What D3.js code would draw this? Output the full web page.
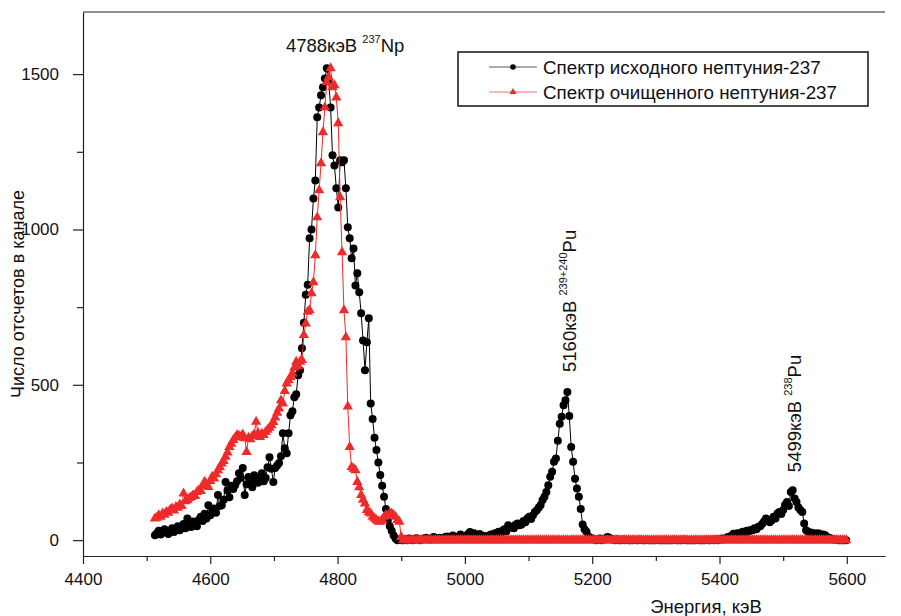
<!DOCTYPE html>
<html><head><meta charset="utf-8">
<script src="https://cdn.jsdelivr.net/npm/d3@7"></script>
<style>
body{margin:0;background:#fff}
svg{display:block}
text{font-family:"Liberation Sans",Arial,sans-serif;fill:#111}
</style>
</head><body>
<svg id="chart" width="901" height="616"></svg>
<script>
// ---- data ----
const energyStart = 4513;   // keV of first channel
const energyStep = 3;       // keV per channel (calibration)

const countsInitial = [
  16, 22, 30, 18, 28, 35, 24, 20, 30, 38,
  26, 33, 45, 32, 40, 52, 38, 70, 48, 42,
  60, 58, 45, 66, 75, 62, 85, 70, 112, 80,
  95, 102, 88, 145, 110, 112, 130, 187, 160, 138,
  175, 165, 177, 190, 215, 200, 232, 145, 180, 203,
  190, 170, 209, 195, 185, 203, 215, 190, 200, 235,
  267, 230, 187, 232, 240, 248, 270, 344, 296, 280,
  344, 402, 415, 460, 470, 531, 547, 618, 700, 790,
  822, 972, 1000, 1100, 1158, 1361, 1393, 1432, 1458, 1486,
  1519, 1480, 1393, 1239, 1206, 1133, 1071, 1223, 1216, 1223,
  1133, 1007, 972, 907, 939, 820, 859, 798, 730, 643,
  547, 637, 714, 440, 390, 330, 290, 250, 210, 175,
  140, 100, 65, 45, 30, 15, 5, 0, 2, 0,
  0, 3, 0, 5, 2, 0, 4, 6, 2, 0,
  3, 5, 8, 4, 2, 6, 10, 5, 3, 8,
  6, 4, 10, 12, 5, 8, 15, 10, 6, 12,
  18, 10, 8, 14, 20, 26, 18, 22, 15, 12,
  20, 10, 14, 12, 8, 15, 18, 12, 22, 20,
  27, 22, 30, 35, 28, 48, 40, 43, 38, 50,
  54, 48, 50, 62, 58, 70, 75, 68, 80, 91,
  96, 105, 113, 129, 140, 155, 177, 204, 220, 252,
  263, 320, 375, 397, 434, 450, 477, 400, 300, 252,
  198, 166, 140, 100, 50, 35, 27, 12, 8, 5,
  3, 0, 2, 5, 0, 3, 6, 10, 8, 4,
  2, 0, 3, 0, 0, 2, 0, 1, 0, 0,
  0, 1, 0, 0, 2, 0, 0, 0, 1, 0,
  0, 0, 0, 1, 0, 0, 0, 0, 0, 0,
  0, 0, 1, 0, 0, 0, 0, 2, 0, 0,
  0, 0, 0, 0, 1, 0, 0, 0, 0, 2,
  0, 0, 2, 0, 3, 0, 2, 5, 3, 6,
  10, 8, 15, 21, 18, 22, 20, 25, 27, 24,
  30, 28, 33, 32, 38, 35, 43, 45, 52, 60,
  70, 66, 58, 64, 75, 70, 86, 91, 84, 97,
  113, 123, 110, 155, 161, 134, 123, 105, 97, 91,
  54, 32, 27, 25, 24, 22, 20, 22, 21, 15,
  18, 16, 10, 8, 5, 3, 2, 1, 0, 0,
  0, 0, 0
];

const countsPurified = [
  70, 72, 80, 75, 86, 82, 91, 88, 98, 102,
  95, 107, 104, 115, 110, 150, 125, 129, 135, 139,
  145, 142, 155, 161, 158, 175, 188, 180, 171, 190,
  204, 198, 212, 225, 235, 247, 255, 268, 282, 300,
  310, 322, 330, 338, 336, 332, 340, 328, 284, 330,
  325, 335, 340, 381, 345, 332, 343, 338, 348, 355,
  362, 370, 380, 395, 410, 424, 450, 440, 480, 504,
  515, 525, 536, 555, 574, 560, 574, 580, 660, 697,
  735, 740, 795, 830, 917, 1039, 1126, 1213, 1313, 1393,
  1474, 1490, 1519, 1458, 1464, 1425, 1342, 1104, 927, 740,
  653, 430, 300, 235, 230, 225, 187, 170, 145, 130,
  118, 97, 90, 86, 75, 70, 64, 60, 59, 65,
  75, 80, 78, 86, 86, 80, 75, 65, 59, 10,
  0, 0, 0, 0, 0, 0, 0, 0, 0, 0,
  0, 0, 0, 0, 0, 0, 0, 0, 0, 0,
  0, 0, 0, 0, 0, 0, 0, 0, 0, 0,
  0, 0, 0, 0, 0, 0, 0, 0, 0, 0,
  0, 0, 0, 0, 0, 0, 0, 0, 0, 0,
  0, 0, 0, 0, 0, 0, 0, 0, 0, 0,
  0, 0, 0, 0, 0, 0, 0, 0, 0, 0,
  0, 0, 0, 0, 0, 0, 0, 0, 0, 0,
  0, 0, 0, 0, 0, 0, 0, 0, 0, 0,
  0, 0, 0, 0, 0, 0, 0, 0, 0, 0,
  0, 0, 0, 0, 0, 0, 0, 0, 0, 0,
  0, 0, 0, 0, 0, 0, 0, 0, 0, 0,
  0, 0, 0, 0, 0, 0, 0, 0, 0, 0,
  0, 0, 0, 0, 0, 0, 0, 0, 0, 0,
  0, 0, 0, 0, 0, 0, 0, 0, 0, 0,
  0, 0, 0, 0, 0, 0, 0, 0, 0, 0,
  0, 0, 0, 0, 0, 0, 0, 0, 0, 0,
  0, 0, 0, 0, 0, 0, 0, 0, 0, 0,
  0, 0, 0, 0, 0, 0, 0, 0, 0, 0,
  0, 0, 0, 0, 0, 0, 0, 0, 0, 0,
  0, 0, 0, 0, 0, 0, 0, 0, 0, 0,
  0, 0, 0, 0, 0, 0, 0, 0, 0, 0,
  0, 0, 0, 0, 0, 0, 0, 0, 0, 0,
  0, 0, 0
];

const seriesNames = ["Спектр исходного нептуния-237", "Спектр очищенного нептуния-237"];
const xTicks = [4400, 4600, 4800, 5000, 5200, 5400, 5600];
const xMinorTicks = [4500, 4700, 4900, 5100, 5300, 5500];
const yTicks = [0, 500, 1000, 1500];
const yMinorTicks = [250, 750, 1250];
const xTitle = "Энергия, кэВ";
const yTitle = "Число отсчетов в канале";
const peakEnergies = [4788, 5160, 5499];
const peakHeights = [1519, 477, 161];
const peakMain = ["4788кэВ", "5160кэВ", "5499кэВ"];
const peakIsotope = ["237", "239+240", "238"];
const peakElement = ["Np", "Pu", "Pu"];

// ---- chart ----
const W = 901, H = 616;
const m = {left: 83, right: 16, top: 12, bottom: 60};
const svg = d3.select("#chart");

const x = d3.scaleLinear().domain([4400, 5660]).range([m.left, W - m.right]);
const y = d3.scaleLinear().domain([-51, 1700]).range([H - m.bottom, m.top]);

const toPoints = arr => arr.map((v, i) => ({e: energyStart + i * energyStep, v}));
const black = toPoints(countsInitial);
const red = toPoints(countsPurified);

const axisColor = "#222";
const fontAxis = "17px";

// x axis
svg.append("g").attr("transform", `translate(0,${y.range()[0]})`)
  .call(d3.axisBottom(x).tickValues(xTicks).tickSize(8).tickSizeOuter(0).tickPadding(9).tickFormat(d3.format("d")));
svg.append("g").attr("transform", `translate(0,${y.range()[0]})`)
  .call(d3.axisBottom(x).tickValues(xMinorTicks).tickSize(5).tickFormat(""))
  .call(g => g.select(".domain").remove());
// y axis
svg.append("g").attr("transform", `translate(${x.range()[0]},0)`)
  .call(d3.axisLeft(y).tickValues(yTicks).tickSize(10).tickSizeOuter(0).tickPadding(14).tickFormat(d3.format("d")));
svg.append("g").attr("transform", `translate(${x.range()[0]},0)`)
  .call(d3.axisLeft(y).tickValues(yMinorTicks).tickSize(6).tickFormat(""))
  .call(g => g.select(".domain").remove());

svg.selectAll(".domain, .tick line").attr("stroke", axisColor).attr("stroke-width", 1.2);
svg.selectAll(".tick text").attr("font-size", fontAxis).attr("font-family", '"Liberation Sans",Arial,sans-serif').attr("fill", "#111");

// top frame line
svg.append("line")
  .attr("x1", x.range()[0]).attr("x2", x.range()[1])
  .attr("y1", y.range()[1]).attr("y2", y.range()[1])
  .attr("stroke", axisColor).attr("stroke-width", 1.2);

// axis titles
svg.append("text").attr("x", 706).attr("y", 613).attr("text-anchor", "middle")
  .attr("font-size", "18.5px").text(xTitle);
svg.append("text").attr("transform", `translate(24,${294}) rotate(-90)`)
  .attr("text-anchor", "middle").attr("font-size", "18px").text(yTitle);

// series
const line = d3.line().x(d => x(d.e)).y(d => y(d.v));
const plot = svg.append("g");

plot.append("path").datum(black).attr("d", line)
  .attr("fill", "none").attr("stroke", "#000").attr("stroke-width", 1);
plot.append("g").selectAll("circle").data(black).join("circle")
  .attr("cx", d => x(d.e)).attr("cy", d => y(d.v)).attr("r", 4).attr("fill", "#000");

const redColor = "#ee2b2b";
plot.append("path").datum(red).attr("d", line)
  .attr("fill", "none").attr("stroke", redColor).attr("stroke-width", 1);
const tri = d3.symbol().type(d3.symbolTriangle).size(46);
plot.append("g").selectAll("path").data(red).join("path")
  .attr("d", tri).attr("transform", d => `translate(${x(d.e)},${y(d.v)})`).attr("fill", redColor);

// peak labels
function addLabel(g, i, fs) {
  const t = g.append("text").attr("font-size", fs);
  t.append("tspan").text(peakMain[i] + " ");
  t.append("tspan").attr("font-size", "11px").attr("dy", -9).text(peakIsotope[i]);
  t.append("tspan").attr("dy", 9).text(peakElement[i]);
  return t;
}
// horizontal label for the Np peak
addLabel(svg.append("g").attr("transform", `translate(${x(peakEnergies[0]) - 44},${y(peakHeights[0]) - 16})`), 0, "18.5px");
// vertical labels for Pu peaks
addLabel(svg.append("g").attr("transform", `translate(${x(peakEnergies[1]) + 9.5},${y(peakHeights[1]) - 20}) rotate(-90)`), 1, "18.5px");
addLabel(svg.append("g").attr("transform", `translate(${x(peakEnergies[2]) + 18},${y(peakHeights[2]) - 18}) rotate(-90)`), 2, "18.5px");

// legend
const lg = svg.append("g");
lg.append("rect").attr("x", 458).attr("y", 52).attr("width", 410).attr("height", 54)
  .attr("fill", "#fff").attr("stroke", "#111").attr("stroke-width", 1.5);
const legRows = [
  {name: seriesNames[0], color: "#555", mcolor: "#000", sym: "circle"},
  {name: seriesNames[1], color: "#f07070", mcolor: redColor, sym: "tri"}
];
legRows.forEach((r, i) => {
  const cy = 67 + i * 25;
  lg.append("line").attr("x1", 489).attr("x2", 537).attr("y1", cy).attr("y2", cy)
    .attr("stroke", r.color).attr("stroke-width", 1);
  if (r.sym === "circle") {
    lg.append("circle").attr("cx", 513).attr("cy", cy).attr("r", 2.8).attr("fill", r.mcolor);
  } else {
    lg.append("path").attr("d", d3.symbol().type(d3.symbolTriangle).size(22))
      .attr("transform", `translate(513,${cy})`).attr("fill", r.mcolor);
  }
  lg.append("text").attr("x", 543).attr("y", cy).attr("dy", "0.36em")
    .attr("font-size", "18.8px").text(r.name);
});
</script>
</body></html>
